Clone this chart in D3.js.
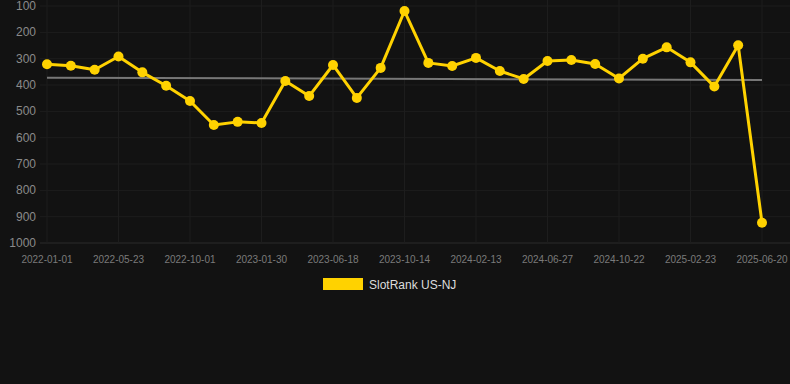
<!DOCTYPE html>
<html>
  <head>
    <script src="https://d3js.org/d3.v7.min.js"></script>
    <style>
      body { margin: 0; background: #121212; }
      svg { display: block; }
    </style>
  </head>
  <body>
    <svg id="chart" width="790" height="384"></svg>
    <script>
      // dates along the x axis (every third one is labelled)
      const dates = [
        "2022-01-01", "2022-02-17", "2022-04-05", "2022-05-23", "2022-07-05",
        "2022-08-18", "2022-10-01", "2022-11-09", "2022-12-20", "2023-01-30",
        "2023-03-18", "2023-05-02", "2023-06-18", "2023-07-28", "2023-09-05",
        "2023-10-14", "2023-11-24", "2024-01-03", "2024-02-13", "2024-03-28",
        "2024-05-12", "2024-06-27", "2024-08-05", "2024-09-13", "2024-10-22",
        "2024-12-04", "2025-01-13", "2025-02-23", "2025-04-05", "2025-05-13",
        "2025-06-20"
      ];
      const ranks = [
        321, 327, 342, 292, 352, 403, 461, 552, 540, 544,
        385, 442, 324, 449, 335, 119, 316, 328, 297, 347,
        377, 309, 305, 320, 375, 300, 257, 314, 406, 249,
        923
      ];
      const trend = [372, 381];
      const yTicks = [100, 200, 300, 400, 500, 600, 700, 800, 900, 1000];
      const seriesName = "SlotRank US-NJ";

      const svg = d3.select("#chart");
      const font = "'Liberation Sans', Arial, sans-serif";

      const x = d3.scalePoint().domain(dates).range([47, 762]);
      const y = d3.scaleLinear().domain([100, 1000]).range([6, 243]);

      const xLabels = dates.filter((d, i) => i % 3 === 0);

      // grid
      svg.append("g")
        .selectAll("line")
        .data(yTicks)
        .enter()
        .append("line")
        .attr("x1", 40)
        .attr("x2", 790)
        .attr("y1", (d) => y(d))
        .attr("y2", (d) => y(d))
        .attr("stroke", (d) => (d === 1000 ? "#2a2a2a" : "#1d1d1d"))
        .attr("stroke-width", 1);

      svg.append("g")
        .selectAll("line")
        .data(xLabels)
        .enter()
        .append("line")
        .attr("x1", (d) => x(d))
        .attr("x2", (d) => x(d))
        .attr("y1", 0)
        .attr("y2", 243)
        .attr("stroke", "#1d1d1d")
        .attr("stroke-width", 1);

      // y labels
      svg.append("g")
        .selectAll("text")
        .data(yTicks)
        .enter()
        .append("text")
        .attr("x", 36)
        .attr("y", (d) => y(d) + 4)
        .attr("text-anchor", "end")
        .attr("font-family", font)
        .attr("font-size", 12)
        .attr("fill", "#8a8a8a")
        .text((d) => d);

      // x labels
      svg.append("g")
        .selectAll("text")
        .data(xLabels)
        .enter()
        .append("text")
        .attr("x", (d) => x(d))
        .attr("y", 263)
        .attr("text-anchor", "middle")
        .attr("font-family", font)
        .attr("font-size", 10)
        .attr("fill", "#7a7a7a")
        .text((d) => d);

      // trend line
      svg.append("line")
        .attr("x1", x(dates[0]))
        .attr("x2", x(dates[dates.length - 1]))
        .attr("y1", y(trend[0]))
        .attr("y2", y(trend[1]))
        .attr("stroke", "#777")
        .attr("stroke-width", 2);

      // series
      const data = dates.map((d, i) => ({ date: d, rank: ranks[i] }));
      const line = d3.line()
        .x((d) => x(d.date))
        .y((d) => y(d.rank));

      svg.append("path")
        .datum(data)
        .attr("d", line)
        .attr("fill", "none")
        .attr("stroke", "#ffd200")
        .attr("stroke-width", 3)
        .attr("stroke-linejoin", "round");

      svg.append("g")
        .selectAll("circle")
        .data(data)
        .enter()
        .append("circle")
        .attr("cx", (d) => x(d.date))
        .attr("cy", (d) => y(d.rank))
        .attr("r", 5)
        .attr("fill", "#ffd200");

      // legend
      const legend = svg.append("g").attr("transform", "translate(323,278)");
      legend.append("rect")
        .attr("width", 40)
        .attr("height", 12)
        .attr("fill", "#ffd200");
      legend.append("text")
        .attr("x", 46)
        .attr("y", 10.5)
        .attr("font-family", font)
        .attr("font-size", 12)
        .attr("fill", "#dddddd")
        .text(seriesName);
    </script>
  </body>
</html>
